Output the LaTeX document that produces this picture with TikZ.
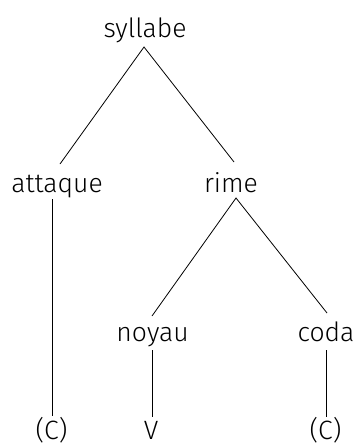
\documentclass[tikz,border=0pt]{standalone}
\usepackage{fontspec}
\setmainfont{Fira Sans}[UprightFont=* Light]
\begin{document}
\begin{tikzpicture}[x=1pt,y=-1pt,
  lbl/.style={anchor=base,inner sep=0pt,font=\fontsize{26.5}{30}\selectfont},
  edge/.style={line width=0.8pt,black}]
\useasboundingbox (0,0) rectangle (355,447);
% labels
\node[lbl] (syl) at (145,37) {syllabe};
\node[lbl] (att) at (57,192) {attaque};
\node[lbl] (rim) at (231,192) {rime};
\node[lbl] (noy) at (152.5,341) {noyau};
\node[lbl] (cod) at (326,341) {coda};
\node[lbl] (c1) at (51.5,439) {(C)};
\node[lbl] (v) at (151,439) {V};
\node[lbl] (c2) at (325.5,439) {(C)};
% branch end points
\coordinate (sylB) at (144,47);
\coordinate (attT) at (60,164);
\coordinate (rimT) at (234,162);
\coordinate (attB) at (52,199);
\coordinate (c1T) at (52,416);
\coordinate (rimB) at (236,198);
\coordinate (noyT) at (152,316);
\coordinate (codT) at (327,313);
\coordinate (noyB) at (152,350);
\coordinate (vT) at (152,417);
\coordinate (codB) at (326,350);
\coordinate (c2T) at (326,417);
% branches
\draw[edge] (attT) -- (sylB) -- (rimT);
\draw[edge] (attB) -- (c1T);
\draw[edge] (noyT) -- (rimB) -- (codT);
\draw[edge] (noyB) -- (vT);
\draw[edge] (codB) -- (c2T);
\end{tikzpicture}
\end{document}
